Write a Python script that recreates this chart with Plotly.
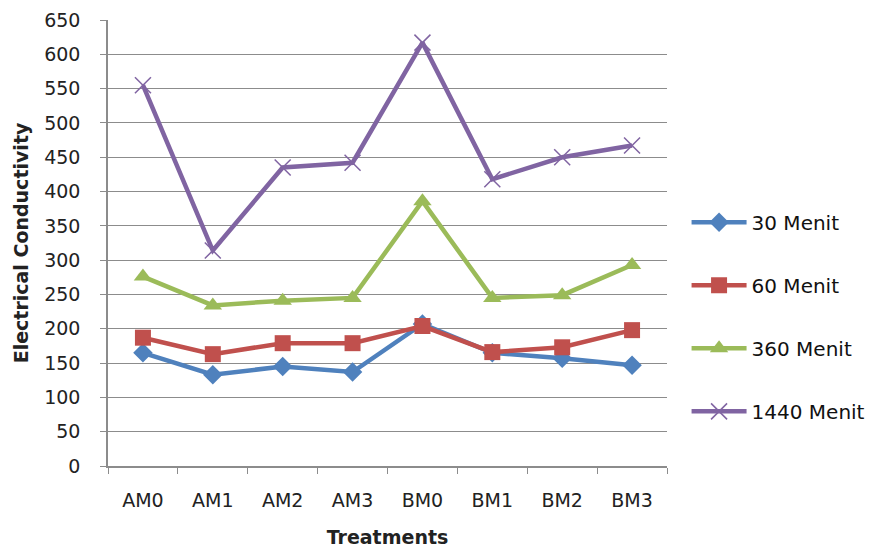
import plotly.graph_objects as go

treatments = ["AM0", "AM1", "AM2", "AM3", "BM0", "BM1", "BM2", "BM3"]
m30 = [165, 133, 145, 137, 207, 165, 157, 147]
m60 = [187, 163, 179, 179, 204, 166, 173, 198]
m360 = [276, 234, 241, 245, 386, 245, 249, 293]
m1440 = [555, 314, 435, 442, 617, 418, 450, 467]

series = [
    ("30 Menit", m30, "#4F81BD", dict(symbol="diamond", size=15)),
    ("60 Menit", m60, "#C0504D", dict(symbol="square", size=16)),
    ("360 Menit", m360, "#9BBB59", dict(symbol="triangle-up", size=16)),
    ("1440 Menit", m1440, "#8064A2", dict(symbol="x-thin", size=16, line=dict(width=1.5, color="#8064A2"))),
]

fig = go.Figure()
for i, (name, vals, col, mk) in enumerate(series):
    marker = dict(color=col, **mk)
    fig.add_trace(go.Scatter(
        x=treatments, y=vals, name=name, mode="lines+markers",
        line=dict(color=col, width=4.5), marker=marker,
        legendgroup=f"g{i}",
    ))

font = "'DejaVu Sans', sans-serif"
fig.update_layout(
    width=880, height=550,
    margin=dict(l=100, r=221, t=12, b=92),
    paper_bgcolor="white", plot_bgcolor="white",
    font=dict(family=font, size=19, color="#222"),
    legend=dict(x=1.035, y=0.59, xanchor="left", yanchor="top", itemwidth=55,
                tracegroupgap=34, font=dict(size=20, color="#111")),
    xaxis=dict(
        type="category", range=[-0.5, 7.5], showline=True, linecolor="#8c8c8c",
        linewidth=1.5, ticks="outside", tickson="boundaries", ticklen=6,
        tickcolor="#8c8c8c", showgrid=False, tickfont=dict(size=19),
        ticklabelstandoff=16, automargin=False,
        title=dict(text="<b>Treatments</b>", font=dict(size=19), standoff=21),
    ),
    yaxis=dict(
        range=[0, 650], dtick=50, showline=True, linecolor="#8c8c8c", linewidth=1.5,
        ticks="outside", ticklen=6, tickcolor="#8c8c8c", gridcolor="#8c8c8c",
        gridwidth=1.2, zeroline=False, tickfont=dict(size=19),
        ticklabelstandoff=16, automargin=False,
        title=dict(text="<b>Electrical Conductivity</b>", font=dict(size=19), standoff=11),
    ),
)
fig.write_html("out.html")
